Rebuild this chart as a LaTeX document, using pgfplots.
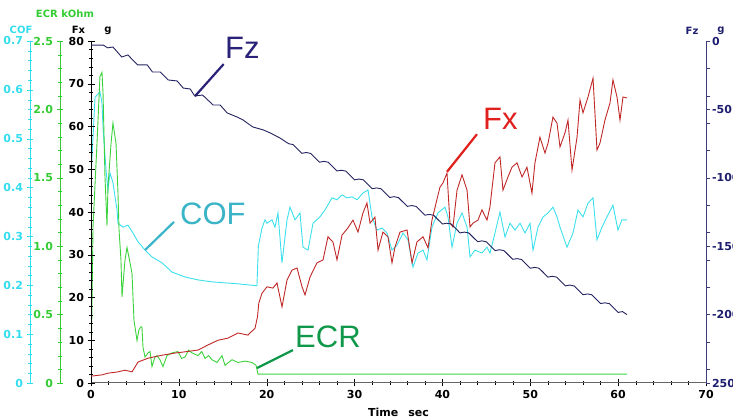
\documentclass[border=0pt]{standalone}
\usepackage{pgfplots}
\pgfplotsset{compat=1.18}
\usepackage{fontspec}
\setmainfont{Liberation Sans}
\newfontfamily\dvs{DejaVu Sans}
\newcommand\tlf{\dvs\bfseries\fontsize{11}{11}\selectfont}
\newcommand\ttf{\dvs\bfseries\fontsize{10}{10}\selectfont}
\newcommand\biglab{\fontsize{31}{31}\selectfont}
\definecolor{fzline}{HTML}{23235F}
\definecolor{fzaxis}{HTML}{3C3C7C}
\definecolor{fzlab}{HTML}{1E1E6E}
\definecolor{fxline}{HTML}{C02828}
\definecolor{cofline}{HTML}{3CE0EC}
\definecolor{cofaxis}{HTML}{33DDEE}
\definecolor{ecrline}{HTML}{3CD23C}
\definecolor{ecraxis}{HTML}{33CC33}
\definecolor{fzt}{HTML}{2A2278}
\definecolor{fxt}{HTML}{E0201C}
\definecolor{coft}{HTML}{3AB4C6}
\definecolor{ecrt}{HTML}{10984A}
\pgfplotsset{
  base/.style={scale only axis, width=615pt, height=342pt, at={(91pt,37pt)}, anchor=south west,
    xmin=0, xmax=70, /pgf/number format/assume math mode=true},
  scaleax/.style={scale only axis, width=1pt, height=342pt, anchor=south west,
    xmin=0, xmax=1, hide x axis, axis y line*=left, y axis line style={-},
    tick align=center, major tick length=7pt, minor tick length=4pt,
    minor y tick num=4, /pgf/number format/assume math mode=true},
}
\begin{document}
\begin{tikzpicture}
\useasboundingbox (0,0) rectangle (733pt,420pt);
% COF scale
\begin{axis}[scaleax, at={(30pt,37pt)}, ymin=0, ymax=0.7,
  ytick={0,0.1,0.2,0.3,0.4,0.5,0.6,0.7}, yticklabels={0,0.1,0.2,0.3,0.4,0.5,0.6,0.7},
  y axis line style={cofaxis, line width=1pt}, tick style={cofaxis},
  yticklabel style={font=\tlf, text=cofaxis}]
\end{axis}
% ECR scale
\begin{axis}[scaleax, at={(60pt,37pt)}, ymin=0, ymax=2.5,
  ytick={0,0.5,1,1.5,2,2.5}, yticklabels={0,0.5,1.0,1.5,2.0,2.5},
  y axis line style={ecraxis, line width=1pt}, tick style={ecraxis},
  yticklabel style={font=\tlf, text=ecraxis}]
\end{axis}
% COF data
\begin{axis}[base, ymin=0, ymax=0.7, hide axis]
\addplot[cofline, line width=0.9pt] coordinates {
(0,0.42)(0.11,0.46)(0.46,0.585)(1.02,0.596)(1.25,0.573)(1.37,0.524)(1.71,0.436)(1.93,0.395)
(2.16,0.43)(2.5,0.41)(2.96,0.354)(3.07,0.327)(3.64,0.319)(4.21,0.323)(4.78,0.307)(5.35,0.289)
(6.15,0.272)(6.94,0.258)(8.08,0.246)(9.22,0.227)(10.7,0.217)(12.18,0.211)(13.77,0.207)
(15.25,0.205)(16.73,0.203)(18.89,0.199)(19.05,0.28)(19.46,0.317)(19.8,0.334)(20.03,0.327)
(20.6,0.334)(20.94,0.319)(21.28,0.348)(21.74,0.246)(22.31,0.334)(22.65,0.36)(23.22,0.334)
(23.79,0.348)(24.13,0.278)(24.7,0.272)(25.27,0.327)(26.06,0.34)(26.63,0.354)(27.43,0.379)
(28.0,0.375)(28.57,0.385)(29.14,0.379)(29.71,0.381)(30.28,0.375)(30.96,0.389)(31.53,0.395)
(31.98,0.34)(32.55,0.313)(33.12,0.317)(33.69,0.307)(34.26,0.272)(34.83,0.282)(35.51,0.307)
(36.08,0.293)(36.65,0.237)(37.22,0.266)(37.79,0.272)(38.24,0.252)(38.81,0.319)(39.49,0.348)
(40.29,0.36)(40.63,0.34)(41.09,0.278)(41.66,0.327)(42.23,0.348)(42.8,0.319)(43.14,0.258)
(43.71,0.272)(44.5,0.266)(45.07,0.278)(45.41,0.266)(45.98,0.307)(46.55,0.35)(47.12,0.299)
(47.69,0.327)(48.26,0.313)(48.83,0.327)(49.4,0.307)(49.97,0.327)(50.31,0.272)(50.88,0.319)
(51.45,0.34)(52.02,0.348)(52.58,0.36)(53.04,0.34)(53.38,0.319)(54.18,0.278)(54.86,0.307)
(55.43,0.354)(56.0,0.34)(56.57,0.368)(57.14,0.379)(57.59,0.293)(58.16,0.319)(58.73,0.34)
(59.41,0.364)(59.98,0.313)(60.43,0.334)(61.0,0.334)};
\end{axis}
% ECR data
\begin{axis}[base, ymin=0, ymax=2.5, hide axis]
\addplot[ecrline, line width=0.9pt] coordinates {
(0,0.04)(0.23,1.14)(0.68,1.75)(1.02,2.24)(1.25,2.27)(1.37,2.12)(1.59,1.51)(1.82,1.15)
(1.93,1.43)(2.28,1.75)(2.5,1.9)(2.85,1.75)(3.07,1.39)(3.19,1.12)(3.41,0.9)(3.53,0.63)
(3.87,0.9)(4.1,0.99)(4.44,0.88)(4.67,0.80)(4.89,0.46)(5.24,0.31)(5.46,0.39)(5.69,0.41)
(5.8,0.41)(5.92,0.26)(6.15,0.19)(6.49,0.22)(6.72,0.23)(6.94,0.12)(7.28,0.19)(7.51,0.2)
(7.85,0.17)(8.19,0.12)(8.65,0.2)(9.22,0.22)(9.9,0.23)(10.3,0.18)(10.7,0.19)(11.1,0.24)(11.5,0.22)
(12.18,0.2)(12.6,0.23)(12.98,0.18)(13.4,0.2)(13.77,0.17)(14.34,0.15)(14.91,0.2)(15.25,0.13)
(16.05,0.17)(16.73,0.15)(17.53,0.16)(18.32,0.15)(18.78,0.13)(19.01,0.065)(61,0.065)};
\end{axis}
% Fx main axis
\begin{axis}[base, ymin=0, ymax=80, clip mode=individual,
  axis x line*=bottom, axis y line*=left,
  x axis line style={-, draw=black!60, line width=1pt}, y axis line style={-, black, line width=1pt},
  xtick={0,10,...,70}, minor x tick num=4, ytick={0,10,...,80}, minor y tick num=4,
  tick align=center, major tick length=7pt, minor tick length=4pt, tick style={black},
  ticklabel style={font=\tlf}]
\addplot[fxline, line width=0.9pt] coordinates {
(0,1.6)(1.25,1.9)(1.93,2.3)(3.07,2.6)(3.87,3.0)(4.67,2.6)(5.35,4.9)(6.49,5.8)(8.08,6.5)
(9.56,7.0)(10.7,7.3)(12.18,7.7)(13.32,8.9)(14.45,10.0)(15.59,10.5)(16.73,11.7)(17.87,11.2)
(18.1,11.7)(18.67,12.8)(18.95,15.5)(19.1,18.7)(19.46,21)(20.03,22.5)(20.71,22.2)(21.17,23.4)
(21.74,17.8)(22.31,24.1)(22.88,26.4)(23.45,26.9)(24.02,22.5)(24.36,20.6)(24.93,24.8)
(25.72,28.1)(26.41,28.8)(26.97,34.2)(27.54,33.0)(28.0,28.8)(28.57,34.6)(29.25,36.3)
(29.82,38.1)(30.39,35.3)(30.96,39.8)(31.41,42.1)(31.76,37.4)(32.32,38.8)(32.67,31.1)
(33.23,35.3)(33.8,34.2)(34.26,28.1)(34.6,31.8)(35.17,35.3)(35.97,35.8)(36.54,28.1)(37.1,33.0)
(37.79,34.2)(38.36,31.6)(38.81,38.1)(39.38,43)(39.72,45.8)(40.06,46.8)(40.52,49.1)(40.86,37.4)
(41.2,36.5)(41.66,45.1)(42.23,48.7)(42.8,45.1)(43.14,36.5)(43.48,37.4)(44.05,38.1)(44.5,40.5)
(45.07,38.1)(45.41,41.2)(45.98,51.5)(46.55,52.9)(46.89,45.1)(47.46,48.2)(47.92,50.5)
(48.49,51.5)(49.06,48.2)(49.62,50.5)(50.19,44.4)(50.53,51.5)(51.1,57.5)(51.67,53.8)
(52.02,56.1)(52.58,62.2)(53.04,60.8)(53.38,55.2)(53.95,58.5)(54.29,61.5)(54.75,49.8)
(55.32,57.5)(55.66,66.2)(56.0,63.2)(56.57,66.9)(57.14,71.3)(57.59,54.5)(57.93,56.1)
(58.5,61.5)(59.07,65.5)(59.41,70.9)(59.87,66.9)(60.21,61.5)(60.55,66.9)(61.0,66.7)};
% annotations
\draw[fzt, line width=2.2pt] (axis cs:11.84,67.1) -- (axis cs:15.1,74.6);
\node[fzt, anchor=base west, inner sep=0pt, font=\biglab] at (axis cs:15.25,76.0) {Fz};
\draw[coft, line width=2.2pt] (axis cs:6.15,31.1) -- (axis cs:9.45,37.7);
\node[coft, anchor=base west, inner sep=0pt, font=\biglab] at (axis cs:10.13,36.96) {COF};
\draw[fxt, line width=2.2pt] (axis cs:40.52,49.4) -- (axis cs:43.93,58.2);
\node[fxt, anchor=base west, inner sep=0pt, font=\biglab] at (axis cs:44.62,59.2) {Fx};
\draw[ecrt, line width=2.2pt] (axis cs:18.89,3.5) -- (axis cs:22.99,7.7);
\node[ecrt, anchor=base west, inner sep=0pt, font=\biglab] at (axis cs:23.22,8.19) {ECR};
\end{axis}
% Fz axis + data
\begin{axis}[base, ymin=-250, ymax=0, hide x axis, axis y line*=right,
  y axis line style={-, fzaxis, line width=1pt},
  ytick={-250,-200,-150,-100,-50,0}, yticklabels={250,-200,-150,-100,-50,0},
  minor ytick={-240,-220,-180,-160,-140,-120,-80,-60,-40,-20},
  tick align=outside, major tick length=4pt, minor tick length=4pt, tick style={fzaxis},
  yticklabel style={font=\tlf, text=fzlab, xshift=-1.5pt}]
\addplot[fzline, line width=0.9pt] coordinates {
(0,-3)(1.4,-3)(1.9,-5)(2.5,-4.4)(3.5,-11.7)(4.2,-10.2)(5.3,-17.5)(6.4,-17.5)(7.0,-22.7)
(7.9,-22.7)(8.8,-28.5)(9.8,-29.2)(10.5,-34.4)(11.3,-35.1)(11.8,-40.2)(12.7,-39.5)(13.9,-46.8)
(14.7,-46.8)(15.5,-52.6)(16.6,-55.5)(17.3,-57.7)(18.4,-62.8)(19.6,-65)(20.4,-67.2)(21.5,-70.9)
(22.5,-75.1)(23,-75.7)(23.5,-78.9)(24,-82.1)(24.5,-81.5)(25,-82.2)(25.5,-85.4)(26,-88.6)
(26.5,-88.0)(27,-88.6)(27.5,-91.8)(28,-95.0)(28.5,-94.5)(29,-95.1)(29.5,-98.3)(30,-101.5)
(30.5,-100.9)(31,-101.5)(31.5,-104.7)(32,-108.0)(32.5,-107.4)(33,-108.0)(33.5,-111.2)
(34,-114.4)(34.5,-113.8)(35,-114.5)(35.5,-117.7)(36,-120.9)(36.5,-120.3)(37,-120.9)
(37.5,-124.1)(38,-127.3)(38.5,-126.8)(39,-127.4)(39.5,-130.6)(40,-133.8)(40.5,-133.2)
(41,-133.8)(41.5,-137.0)(42,-140.3)(42.5,-139.7)(43,-140.3)(43.5,-143.5)(44,-146.7)
(44.5,-146.1)(45,-146.8)(45.5,-150.0)(46,-153.2)(46.5,-152.6)(47,-153.2)(47.5,-156.4)
(48,-159.6)(48.5,-159.1)(49,-159.7)(49.5,-162.9)(50,-166.1)(50.5,-165.5)(51,-166.1)
(51.5,-169.3)(52,-172.6)(52.5,-172.0)(53,-172.6)(53.5,-175.8)(54,-179.0)(54.5,-178.4)
(55,-179.1)(55.5,-182.3)(56,-185.5)(56.5,-184.9)(57,-185.5)(57.5,-188.7)(58,-191.9)
(58.5,-191.4)(59,-192.0)(59.5,-195.2)(60,-198.4)(60.5,-197.8)(61,-200.0)};
\end{axis}
% axis titles
\node[anchor=base, inner sep=0pt, font=\ttf, text=cofaxis] at (21pt,386pt) {COF};
\node[anchor=base, inner sep=0pt, font=\ttf, text=ecraxis] at (65pt,402.5pt) {ECR kOhm};
\node[anchor=base, inner sep=0pt, font=\ttf] at (78.5pt,386pt) {Fx};
\node[anchor=base, inner sep=0pt, font=\ttf] at (108pt,387pt) {g};
\node[anchor=base, inner sep=0pt, font=\ttf, text=fzlab] at (692pt,385pt) {Fz};
\node[anchor=base, inner sep=0pt, font=\ttf, text=fzlab] at (721pt,387pt) {g};
\node[anchor=base, inner sep=0pt, font=\tlf] at (398.5pt,4pt) {Time\hspace{0.9em}sec};
\end{tikzpicture}
\end{document}
